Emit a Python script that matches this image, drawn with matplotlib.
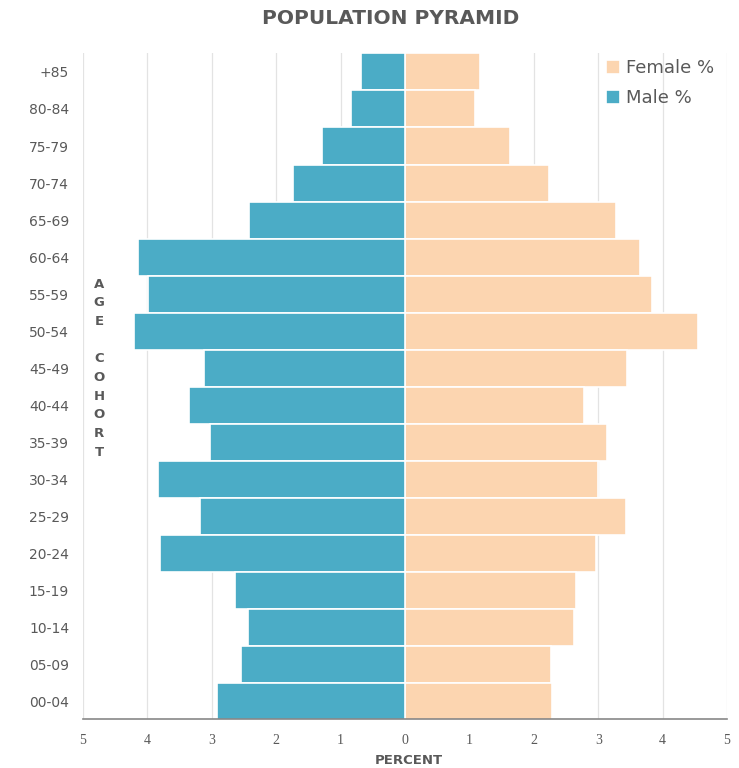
import matplotlib
matplotlib.use("Agg")
import matplotlib.pyplot as plt
import numpy as np

age_groups = ["+85", "80-84", "75-79", "70-74", "65-69", "60-64", "55-59", "50-54",
              "45-49", "40-44", "35-39", "30-34", "25-29", "20-24", "15-19", "10-14",
              "05-09", "00-04"]
male_pct = [0.68, 0.84, 1.29, 1.74, 2.42, 4.15, 3.99, 4.21, 3.12, 3.35, 3.03, 3.84,
            3.18, 3.80, 2.64, 2.44, 2.55, 2.92]
female_pct = [1.16, 1.09, 1.63, 2.24, 3.28, 3.65, 3.84, 4.55, 3.45, 2.78, 3.14, 3.00,
              3.43, 2.97, 2.66, 2.62, 2.27, 2.28]
x_ticks = [-5, -4, -3, -2, -1, 0, 1, 2, 3, 4, 5]
x_tick_labels = ["5", "4", "3", "2", "1", "0", "1", "2", "3", "4", "5"]

male_color = "#4BACC6"
female_color = "#FCD5B0"
text_color = "#595959"

fig = plt.figure(figsize=(7.39, 7.68), dpi=100)
ax = fig.add_axes([83/739, 1 - 719/768, (727-83)/739, (719-53)/768])

y = np.arange(len(age_groups))[::-1]
ax.barh(y, female_pct, height=1.0, color=female_color, edgecolor="white", linewidth=1.2,
        label="Female %", zorder=3)
ax.barh(y, [-v for v in male_pct], height=1.0, color=male_color, edgecolor="white",
        linewidth=1.2, label="Male %", zorder=3)

ax.set_xlim(-5, 5)
ax.set_ylim(-0.46, len(age_groups) - 0.49)
ax.set_yticks(y)
ax.set_yticklabels(age_groups, fontsize=10, color=text_color, family="DejaVu Sans")
ax.set_xticks(x_ticks)
ax.set_xticklabels(x_tick_labels, fontsize=10, color=text_color, family="Liberation Serif")
ax.tick_params(axis="y", length=0, pad=10)
ax.tick_params(axis="x", length=0, pad=11)

ax.grid(axis="x", color="#E3E3E3", linewidth=0.9, zorder=0)
for s in ["top", "right", "left"]:
    ax.spines[s].set_visible(False)
ax.spines["bottom"].set_color("#888888")
ax.spines["bottom"].set_linewidth(1.2)
ax.spines["bottom"].set_zorder(4)

fig.text(409/739, 1 - 760/768, "PERCENT", ha="center", va="center", fontsize=9.5,
         fontweight="bold", color=text_color)

fig.text(391/739, 1 - 18/768, "POPULATION PYRAMID", ha="center", va="center", fontsize=14.5,
         fontweight="bold", color=text_color, family="DejaVu Sans")

letters = "AGE COHORT"
for i, ch in enumerate(letters):
    if ch != " ":
        fig.text(99/739, 1 - (284 + i*18.7)/768, ch, ha="center", va="center",
                 fontsize=9.5, fontweight="bold", color=text_color)

leg = ax.legend(loc="upper right", bbox_to_anchor=(1.005, 1.015), frameon=False, fontsize=13,
                handlelength=0.8, handleheight=0.8, handletextpad=0.3, labelspacing=0.65,
                labelcolor=text_color)

fig.savefig("out.png", dpi=100, facecolor="white")
